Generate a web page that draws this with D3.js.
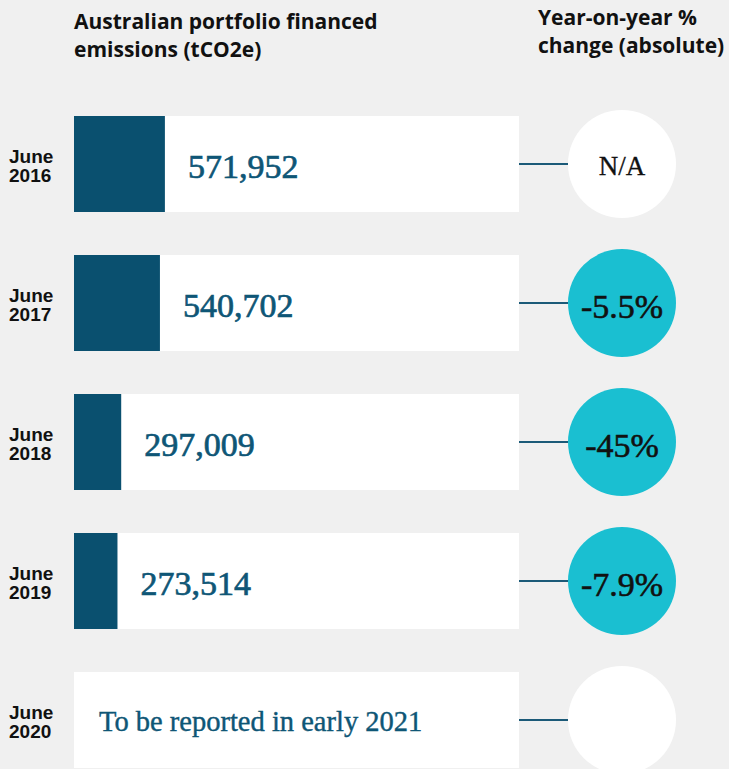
<!DOCTYPE html>
<html>
<head>
<meta charset="utf-8">
<script src="https://cdn.jsdelivr.net/npm/d3@7"></script>
<style>
  html, body { margin: 0; padding: 0; background: #f0f0f0; }
  svg { display: block; }
</style>
</head>
<body>
<div id="chart"></div>
<script>
var width = 729;
var height = 769;

// data
var periods = ['June 2016', 'June 2017', 'June 2018', 'June 2019', 'June 2020'];
var emissions = [571952, 540702, 297009, 273514, null];
var changeLabels = ['N/A', '-5.5%', '-45%', '-7.9%', ''];
var changeValues = [null, -5.5, -45, -7.9, null];
var pendingText = 'To be reported in early 2021';

var rows = periods.map(function (p, i) {
    return { period: p, value: emissions[i], label: changeLabels[i], change: changeValues[i] };
});

// colours
var darkBlue = '#0a506f';
var textBlue = '#0e5676';
var cyan = '#1abfd1';

var svg = d3.select('#chart').append('svg')
    .attr('width', width)
    .attr('height', height);

// row centres
var yScale = d3.scalePoint()
    .domain(periods)
    .range([164, 720]);

// the white box spans 74 -> 519; the dark bar grows from its left edge
var boxLeft = 74, boxWidth = 445, boxHeight = 96;
var xScale = d3.scaleLinear()
    .domain([0, 2800000])
    .range([boxLeft, boxLeft + boxWidth]);

var circleX = 622, circleR = 54;

// headers
var sans = '"Open Sans", Roboto, "Liberation Sans", sans-serif';
var serif = '"Liberation Serif", "Times New Roman", serif';

function header(x, lines, y0, dy) {
    var t = svg.append('text')
        .style('font-family', sans).style('font-weight', 700).style('font-size', '21px')
        .attr('fill', '#111');
    lines.forEach(function (l, i) {
        t.append('tspan').attr('x', x).attr('y', y0 + i * dy).text(l);
    });
}
header(74, ['Australian portfolio financed', 'emissions (tCO2e)'], 29, 28);
header(538, ['Year-on-year %', 'change (absolute)'], 25, 28);

var row = svg.selectAll('g.row')
    .data(rows)
    .enter()
    .append('g')
    .attr('class', 'row')
    .attr('transform', d => `translate(0, ${yScale(d.period)})`);

// period label on the left
var lab = row.append('text')
    .style('font-family', '"Liberation Sans", Arial, sans-serif')
    .style('font-weight', 'bold')
    .style('font-size', '19px')
    .attr('fill', '#111');
lab.append('tspan').attr('x', 9).attr('y', -1).text(d => d.period.split(' ')[0]);
lab.append('tspan').attr('x', 9).attr('y', 18).text(d => d.period.split(' ')[1]);

// white box
row.append('rect')
    .attr('x', boxLeft)
    .attr('y', -boxHeight / 2)
    .attr('width', boxWidth)
    .attr('height', boxHeight)
    .attr('fill', '#fff');

// emissions bar
row.filter(d => d.value != null)
    .append('rect')
    .attr('x', xScale(0))
    .attr('y', -boxHeight / 2)
    .attr('width', d => xScale(d.value) - xScale(0))
    .attr('height', boxHeight)
    .attr('fill', darkBlue);

row.filter(d => d.value != null)
    .append('text')
    .attr('x', d => xScale(d.value) + 23)
    .attr('y', 14)
    .style('font-family', serif)
    .style('font-size', '34px')
    .attr('fill', textBlue)
    .attr('stroke', textBlue)
    .attr('stroke-width', 0.7)
    .text(d => d3.format(',')(d.value));

row.filter(d => d.value == null)
    .append('text')
    .attr('x', 99)
    .attr('y', 11)
    .style('font-family', serif)
    .style('font-size', '28.5px')
    .attr('fill', textBlue)
    .attr('stroke', textBlue)
    .attr('stroke-width', 0.4)
    .text(pendingText);

// connector
row.append('line')
    .attr('x1', boxLeft + boxWidth)
    .attr('x2', circleX - circleR)
    .attr('y1', 0).attr('y2', 0)
    .attr('stroke', '#1b5a78')
    .attr('stroke-width', 2);

// change circle
row.append('circle')
    .attr('cx', circleX)
    .attr('cy', 0)
    .attr('r', circleR)
    .attr('fill', d => d.change == null ? '#fff' : cyan);

row.append('text')
    .attr('x', circleX)
    .attr('y', d => d.change == null ? 11 : 15)
    .attr('text-anchor', 'middle')
    .style('font-family', serif)
    .style('font-size', d => d.change == null ? '27px' : '34px')
    .attr('fill', '#111')
    .attr('stroke', '#111')
    .attr('stroke-width', d => d.change == null ? 0.3 : 0.6)
    .text(d => d.label);
</script>
</body>
</html>
